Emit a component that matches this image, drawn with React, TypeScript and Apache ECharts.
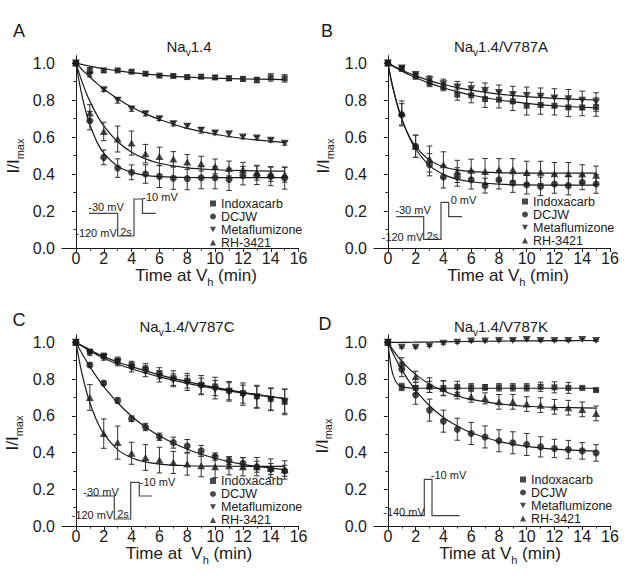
import React, { useEffect, useRef } from "react";
import * as echarts from "echarts";

// ---------- data ----------
const TIME = [0, 1, 2, 3, 4, 5, 6, 7, 8, 9, 10, 11, 12, 13, 14, 15];
const FIT_T = [0, 0.25, 0.5, 0.75, 1, 1.5, 2, 3, 4, 5, 6, 8, 10, 12, 15];
const DRUGS = ["Indoxacarb", "DCJW", "Metaflumizone", "RH-3421"];
const X_TICKS = [0, 2, 4, 6, 8, 10, 12, 14, 16];
const X_MINOR = [1, 3, 5, 7, 9, 11, 13, 15];
const Y_TICKS = [0, 0.2, 0.4, 0.6, 0.8, 1.0];
const Y_MINOR = [0.1, 0.3, 0.5, 0.7, 0.9];
const TITLES = ["1.4", "1.4/V787A", "1.4/V787C", "1.4/V787K"];
const LETTERS = ["A", "B", "C", "D"];

// Panel A: Nav1.4
const A_INDO = [1.0, 0.96, 0.96, 0.96, 0.953, 0.942, 0.932, 0.93, 0.924, 0.926, 0.922, 0.917, 0.914, 0.908, 0.922, 0.917];
const A_INDO_ERR = [0, 0.015, 0.01, 0.008, 0.008, 0.01, 0.008, 0.008, 0.01, 0.01, 0.01, 0.012, 0.012, 0.015, 0.02, 0.02];
const A_INDO_FIT = [1, 0.995, 0.991, 0.987, 0.983, 0.975, 0.969, 0.957, 0.948, 0.94, 0.934, 0.924, 0.918, 0.914, 0.91];
const A_DCJW = [1.0, 0.688, 0.49, 0.432, 0.409, 0.4, 0.387, 0.377, 0.375, 0.38, 0.38, 0.371, 0.391, 0.393, 0.387, 0.378];
const A_DCJW_ERR = [0, 0.05, 0.04, 0.05, 0.04, 0.05, 0.06, 0.06, 0.06, 0.06, 0.06, 0.06, 0.05, 0.05, 0.05, 0.06];
const A_DCJW_FIT = [1, 0.892, 0.802, 0.728, 0.667, 0.575, 0.513, 0.442, 0.409, 0.393, 0.386, 0.381, 0.38, 0.38, 0.38];
const A_META = [1.0, 0.935, 0.856, 0.798, 0.751, 0.726, 0.699, 0.672, 0.658, 0.636, 0.622, 0.616, 0.6, 0.595, 0.582, 0.566];
const A_META_ERR = [0, 0.01, 0.01, 0.015, 0.012, 0.012, 0.01, 0.012, 0.012, 0.015, 0.01, 0.015, 0.01, 0.01, 0.01, 0.01];
const A_META_FIT = [1, 0.98, 0.96, 0.941, 0.924, 0.89, 0.86, 0.807, 0.762, 0.725, 0.695, 0.647, 0.615, 0.592, 0.57];
const A_RH = [1.0, 0.73, 0.63, 0.589, 0.567, 0.51, 0.495, 0.481, 0.465, 0.456, 0.441, 0.43, 0.423, 0.407, 0.4, 0.396];
const A_RH_ERR = [0, 0.045, 0.05, 0.07, 0.065, 0.05, 0.05, 0.04, 0.04, 0.04, 0.04, 0.04, 0.04, 0.04, 0.04, 0.04];
const A_RH_FIT = [1, 0.94, 0.886, 0.837, 0.794, 0.72, 0.66, 0.574, 0.518, 0.482, 0.458, 0.433, 0.423, 0.418, 0.416];

// Panel B: Nav1.4/V787A
const B_INDO = [1.0, 0.968, 0.928, 0.892, 0.87, 0.829, 0.825, 0.805, 0.802, 0.793, 0.769, 0.773, 0.769, 0.76, 0.76, 0.762];
const B_INDO_ERR = [0, 0.01, 0.015, 0.02, 0.02, 0.03, 0.04, 0.045, 0.045, 0.05, 0.05, 0.05, 0.05, 0.05, 0.045, 0.05];
const B_INDO_FIT = [1, 0.989, 0.977, 0.967, 0.957, 0.938, 0.921, 0.891, 0.866, 0.845, 0.827, 0.8, 0.782, 0.769, 0.757];
const B_DCJW = [1.0, 0.72, 0.55, 0.45, 0.384, 0.384, 0.369, 0.337, 0.369, 0.351, 0.342, 0.333, 0.346, 0.337, 0.355, 0.346];
const B_DCJW_ERR = [0, 0.06, 0.06, 0.06, 0.06, 0.05, 0.05, 0.04, 0.05, 0.05, 0.05, 0.05, 0.05, 0.05, 0.04, 0.05];
const B_DCJW_FIT = [1, 0.905, 0.826, 0.758, 0.7, 0.605, 0.535, 0.445, 0.398, 0.372, 0.358, 0.345, 0.341, 0.34, 0.34];
const B_META = [1.0, 0.973, 0.937, 0.91, 0.888, 0.87, 0.861, 0.852, 0.841, 0.829, 0.825, 0.82, 0.811, 0.807, 0.798, 0.789];
const B_META_ERR = [0, 0.01, 0.015, 0.02, 0.025, 0.03, 0.035, 0.04, 0.04, 0.045, 0.045, 0.045, 0.05, 0.05, 0.05, 0.05];
const B_META_FIT = [1, 0.99, 0.98, 0.971, 0.962, 0.946, 0.931, 0.905, 0.884, 0.867, 0.853, 0.832, 0.818, 0.809, 0.8];
const B_RH = [1.0, 0.73, 0.55, 0.481, 0.45, 0.414, 0.42, 0.414, 0.423, 0.423, 0.409, 0.409, 0.402, 0.402, 0.4, 0.393];
const B_RH_ERR = [0, 0.065, 0.06, 0.07, 0.07, 0.06, 0.06, 0.07, 0.06, 0.06, 0.06, 0.06, 0.06, 0.06, 0.05, 0.05];
const B_RH_FIT = [1, 0.902, 0.822, 0.753, 0.697, 0.609, 0.548, 0.475, 0.439, 0.422, 0.413, 0.407, 0.405, 0.405, 0.405];

// Panel C: Nav1.4/V787C
const C_INDO = [1.0, 0.95, 0.926, 0.9, 0.877, 0.859, 0.832, 0.805, 0.791, 0.769, 0.76, 0.737, 0.724, 0.706, 0.692, 0.676];
const C_INDO_ERR = [0, 0.01, 0.015, 0.02, 0.02, 0.025, 0.03, 0.04, 0.04, 0.05, 0.05, 0.05, 0.055, 0.06, 0.06, 0.07];
const C_INDO_FIT = [1, 0.99, 0.98, 0.97, 0.96, 0.94, 0.922, 0.893, 0.868, 0.845, 0.823, 0.786, 0.755, 0.728, 0.695];
const C_DCJW = [1.0, 0.877, 0.778, 0.683, 0.584, 0.539, 0.486, 0.454, 0.436, 0.409, 0.378, 0.355, 0.342, 0.323, 0.31, 0.301];
const C_DCJW_ERR = [0, 0.01, 0.01, 0.015, 0.015, 0.02, 0.02, 0.03, 0.035, 0.03, 0.02, 0.02, 0.03, 0.03, 0.03, 0.03];
const C_DCJW_FIT = [1, 0.964, 0.931, 0.899, 0.868, 0.811, 0.759, 0.671, 0.598, 0.539, 0.49, 0.418, 0.369, 0.336, 0.306];
const C_META = [1.0, 0.94, 0.918, 0.892, 0.859, 0.838, 0.814, 0.793, 0.778, 0.76, 0.742, 0.73, 0.712, 0.701, 0.688, 0.679];
const C_META_ERR = [0, 0.01, 0.015, 0.02, 0.02, 0.025, 0.03, 0.035, 0.04, 0.045, 0.05, 0.05, 0.055, 0.06, 0.06, 0.065];
const C_META_FIT = [1, 0.988, 0.976, 0.965, 0.954, 0.933, 0.913, 0.882, 0.856, 0.833, 0.812, 0.777, 0.748, 0.724, 0.694];
const C_RH = [1.0, 0.7, 0.503, 0.454, 0.396, 0.373, 0.359, 0.346, 0.337, 0.328, 0.323, 0.328, 0.323, 0.323, 0.315, 0.305];
const C_RH_ERR = [0, 0.07, 0.08, 0.09, 0.06, 0.07, 0.07, 0.06, 0.06, 0.06, 0.06, 0.05, 0.05, 0.05, 0.05, 0.05];
const C_RH_FIT = [1, 0.896, 0.809, 0.735, 0.671, 0.573, 0.503, 0.416, 0.372, 0.349, 0.337, 0.328, 0.326, 0.325, 0.325];

// Panel D: Nav1.4/V787K
const D_INDO = [1.0, 0.757, 0.752, 0.758, 0.752, 0.758, 0.755, 0.755, 0.755, 0.755, 0.755, 0.758, 0.755, 0.752, 0.752, 0.74];
const D_INDO_ERR = [0, 0.02, 0.03, 0.03, 0.04, 0.03, 0.02, 0.015, 0.02, 0.02, 0.02, 0.025, 0.03, 0.03, 0.005, 0.005];
const D_INDO_FIT = [1, 0.859, 0.797, 0.77, 0.759, 0.752, 0.75, 0.75, 0.75, 0.75, 0.75, 0.75, 0.75, 0.75, 0.75];
const D_DCJW = [1.0, 0.853, 0.713, 0.631, 0.571, 0.527, 0.504, 0.485, 0.464, 0.453, 0.444, 0.431, 0.422, 0.416, 0.409, 0.398];
const D_DCJW_ERR = [0, 0.04, 0.05, 0.06, 0.06, 0.06, 0.06, 0.06, 0.06, 0.06, 0.06, 0.055, 0.05, 0.05, 0.045, 0.045];
const D_DCJW_FIT = [1, 0.959, 0.92, 0.884, 0.851, 0.791, 0.739, 0.655, 0.591, 0.544, 0.508, 0.461, 0.434, 0.419, 0.408];
const D_META = [1.0, 0.973, 0.973, 0.982, 0.995, 1.0, 1.007, 1.007, 1.01, 1.01, 1.015, 1.01, 1.01, 1.01, 1.015, 1.01];
const D_META_ERR = [0, 0.005, 0.005, 0.005, 0.005, 0.005, 0.005, 0.005, 0.005, 0.005, 0.005, 0.005, 0.005, 0.005, 0.005, 0.005];
const D_META_FIT = [1, 1, 1, 1, 1, 1, 1.001, 1.002, 1.003, 1.004, 1.005, 1.007, 1.008, 1.009, 1.01];
const D_RH = [1.0, 0.886, 0.813, 0.767, 0.749, 0.722, 0.704, 0.695, 0.676, 0.676, 0.664, 0.658, 0.649, 0.644, 0.635, 0.613];
const D_RH_ERR = [0, 0.03, 0.03, 0.04, 0.04, 0.03, 0.03, 0.03, 0.04, 0.04, 0.04, 0.04, 0.04, 0.04, 0.04, 0.04];
const D_RH_FIT = [1, 0.971, 0.945, 0.92, 0.898, 0.858, 0.825, 0.772, 0.735, 0.708, 0.689, 0.665, 0.652, 0.646, 0.642];

const PANELS = [
  { means: [A_INDO, A_DCJW, A_META, A_RH], errs: [A_INDO_ERR, A_DCJW_ERR, A_META_ERR, A_RH_ERR], fits: [A_INDO_FIT, A_DCJW_FIT, A_META_FIT, A_RH_FIT] },
  { means: [B_INDO, B_DCJW, B_META, B_RH], errs: [B_INDO_ERR, B_DCJW_ERR, B_META_ERR, B_RH_ERR], fits: [B_INDO_FIT, B_DCJW_FIT, B_META_FIT, B_RH_FIT] },
  { means: [C_INDO, C_DCJW, C_META, C_RH], errs: [C_INDO_ERR, C_DCJW_ERR, C_META_ERR, C_RH_ERR], fits: [C_INDO_FIT, C_DCJW_FIT, C_META_FIT, C_RH_FIT] },
  { means: [D_INDO, D_DCJW, D_META, D_RH], errs: [D_INDO_ERR, D_DCJW_ERR, D_META_ERR, D_RH_ERR], fits: [D_INDO_FIT, D_DCJW_FIT, D_META_FIT, D_RH_FIT] },
];

// ---------- layout & style ----------
const FONT = '"Liberation Sans", Arial, Helvetica, sans-serif';
const INK = "#1a1a1a";
const DOWN_TRI = "path://M0,0L10,0L5,9Z";
const SYMBOLS = ["rect", "circle", DOWN_TRI, "triangle"];
const SYMBOL_SIZES: any[] = [6, 7, [8, 7], [8, 7]];

const GRIDS = [
  { left: 62, top: 55.6, width: 236.6, height: 192.4 },
  { left: 374, top: 55.6, width: 236, height: 192.4 },
  { left: 62, top: 335, width: 236.6, height: 191 },
  { left: 374, top: 335, width: 236, height: 191 },
];
const LEGEND_POS = [
  { left: 210, top: 197 },
  { left: 522, top: 195 },
  { left: 210, top: 474.5 },
  { left: 520, top: 473 },
];
const LETTER_POS = [[19, 31], [327, 31], [19, 320], [325, 324]];
const TITLE_POS = [[189, 48], [501, 48], [187, 328], [501, 328]];
const YNAME_POS = [[15, 156], [325, 156], [14, 433], [323.5, 436]];
const XNAME_POS = [[196, 277], [508, 277], [189, 555], [500, 555]];
const XNAME_TEXT = ["Time at V", "Time at V", "Time at  V", "Time at V"];

const INSETS = [
  {
    pts: [[89, 213.3], [117.7, 213.3], [117.7, 236], [134, 236], [134, 199], [142.5, 199], [142.5, 213.3], [155.7, 213.3]],
    labels: [["-30 mV", 106, 207], ["-120 mV", 96, 232.7], ["2s", 126, 231.7], ["-10 mV", 160, 197]],
  },
  {
    pts: [[396.3, 216.7], [423.7, 216.7], [423.7, 239.3], [441, 239.3], [441, 202.3], [448.7, 202.3], [448.7, 216.7], [462, 216.7]],
    labels: [["-30 mV", 413, 210], ["-120 mV", 402.5, 236.7], ["2s", 432.5, 236], ["0 mV", 463.5, 200]],
  },
  {
    pts: [[86, 496], [114.3, 496], [114.3, 519], [130.7, 519], [130.7, 482.3], [139.3, 482.3], [139.3, 496], [152, 496]],
    labels: [["-30 mV", 101, 491.7], ["-120 mV", 92.5, 515], ["2s", 123, 514], ["-10 mV", 157.5, 481.7]],
  },
  {
    pts: [[400.3, 515.7], [424.3, 515.7], [424.3, 479.3], [432, 479.3], [432, 515.7], [459.7, 515.7]],
    labels: [["-140 mV", 404, 511.7], ["-10 mV", 448.5, 475]],
  },
];

function subText(x: number, y: number, main1: string, sub: string, main2: string, size: number, subSize: number, drop: number, rotation = 0) {
  return {
    type: "text", x, y, rotation,
    style: {
      text: "{a|" + main1 + "}{b|" + sub + "}" + (main2 ? "{a|" + main2 + "}" : ""),
      align: "center", verticalAlign: "middle",
      rich: {
        a: { fontSize: size, fontFamily: FONT, fill: INK, verticalAlign: "bottom", padding: [0, 0, drop, 0] },
        b: { fontSize: subSize, fontFamily: FONT, fill: INK, verticalAlign: "bottom" },
      },
    },
  };
}

function buildOption() {
  const grid: any[] = [];
  const xAxis: any[] = [];
  const yAxis: any[] = [];
  const series: any[] = [];
  const legend: any[] = [];
  const graphic: any[] = [];

  PANELS.forEach((panel, p) => {
    grid.push({ ...GRIDS[p], containLabel: false });
    xAxis.push({
      gridIndex: p, type: "value", min: -1, max: 16, position: "bottom",
      axisLine: { lineStyle: { color: INK, width: 1 } },
      axisTick: { length: 4, customValues: X_TICKS, lineStyle: { color: INK, width: 1 } },
      axisLabel: { customValues: X_TICKS, fontSize: 16, color: INK, fontFamily: FONT, margin: 2 },
      splitLine: { show: false },
    });
    xAxis.push({
      gridIndex: p, type: "value", min: -1, max: 16, position: "bottom",
      axisLine: { show: false },
      axisTick: { length: 2.5, customValues: X_MINOR, lineStyle: { color: INK, width: 1 } },
      axisLabel: { show: false },
      splitLine: { show: false },
    });
    yAxis.push({
      gridIndex: p, type: "value", min: 0, max: 1.04, position: "left",
      axisLine: { show: true, lineStyle: { color: INK, width: 1 } },
      axisTick: { show: true, length: 4, customValues: Y_TICKS, lineStyle: { color: INK, width: 1 } },
      axisLabel: {
        customValues: Y_TICKS, fontSize: 16, color: INK, fontFamily: FONT, margin: 7,
        formatter: (v: number) => v.toFixed(1),
      },
      splitLine: { show: false },
    });
    yAxis.push({
      gridIndex: p, type: "value", min: 0, max: 1.04, position: "left",
      axisLine: { show: false },
      axisTick: { show: true, length: 2.5, customValues: Y_MINOR, lineStyle: { color: INK, width: 1 } },
      axisLabel: { show: false },
      splitLine: { show: false },
    });

    const xi = 2 * p;
    const yi = 2 * p;
    DRUGS.forEach((drug, d) => {
      const fit = panel.fits[d];
      const mean = panel.means[d];
      const err = panel.errs[d];
      series.push({
        name: drug + " fit", type: "line", xAxisIndex: xi, yAxisIndex: yi,
        data: FIT_T.map((t, i) => [t, fit[i]]),
        symbol: "none", smooth: 0.35, silent: true, z: 2,
        lineStyle: { color: INK, width: 1.2 },
      });
      series.push({
        name: drug + " SEM", type: "custom", xAxisIndex: xi, yAxisIndex: yi, z: 3, silent: true,
        data: TIME.map((t, i) => [t, mean[i] - err[i], mean[i] + err[i]]).filter((r) => r[2] - r[1] > 0),
        encode: { x: 0, y: [1, 2] },
        renderItem: (params: any, api: any) => {
          const x = api.value(0);
          const top = api.coord([x, api.value(2)]);
          const bot = api.coord([x, api.value(1)]);
          const w = 2.8;
          const st = { stroke: "#333", lineWidth: 1 };
          return {
            type: "group",
            children: [
              { type: "line", shape: { x1: top[0], y1: top[1], x2: bot[0], y2: bot[1] }, style: st },
              { type: "line", shape: { x1: top[0] - w, y1: top[1], x2: top[0] + w, y2: top[1] }, style: st },
              { type: "line", shape: { x1: bot[0] - w, y1: bot[1], x2: bot[0] + w, y2: bot[1] }, style: st },
            ],
          };
        },
      });
      series.push({
        name: drug, type: "scatter", xAxisIndex: xi, yAxisIndex: yi, z: 5,
        symbol: SYMBOLS[d], symbolSize: SYMBOL_SIZES[d],
        itemStyle: { color: INK },
        data: TIME.map((t, i) => [t, mean[i]]),
      });
    });

    legend.push({
      ...LEGEND_POS[p], orient: "vertical", padding: 0, itemGap: 0, itemWidth: 6, itemHeight: 6,
      selectedMode: false,
      textStyle: { fontSize: 12.5, lineHeight: 11, color: INK, fontFamily: FONT },
      data: DRUGS.map((name, d) => ({ name, icon: SYMBOLS[d] })),
    });

    graphic.push({
      type: "text", x: LETTER_POS[p][0], y: LETTER_POS[p][1],
      style: { text: LETTERS[p], fontSize: 18, fontFamily: FONT, fill: INK, align: "center", verticalAlign: "middle" },
    });
    graphic.push(subText(TITLE_POS[p][0], TITLE_POS[p][1], "Na", "v", TITLES[p], 15, 10, 3));
    graphic.push(subText(YNAME_POS[p][0], YNAME_POS[p][1], "I/I", "max", "", 17, 11, 3, Math.PI / 2));
    graphic.push(subText(XNAME_POS[p][0], XNAME_POS[p][1], XNAME_TEXT[p], "h", " (min)", 17, 11, 3));

    const inset = INSETS[p];
    graphic.push({
      type: "polyline", shape: { points: inset.pts },
      style: { stroke: "#444", lineWidth: 1.2, fill: null },
    });
    inset.labels.forEach((lab: any) => {
      graphic.push({
        type: "text", x: lab[1], y: lab[2],
        style: { text: lab[0], fontSize: 11, fontFamily: FONT, fill: INK, align: "center", verticalAlign: "middle" },
      });
    });
  });

  return {
    animation: false,
    backgroundColor: "#ffffff",
    textStyle: { fontFamily: FONT },
    grid, xAxis, yAxis, series, legend, graphic,
  };
}

export default function App() {
  const ref = useRef<HTMLDivElement>(null);
  useEffect(() => {
    if (!ref.current) return;
    const chart = echarts.init(ref.current, null, { renderer: "svg" });
    chart.setOption(buildOption() as any);
    return () => chart.dispose();
  }, []);
  return (
    <div
      ref={ref}
      style={{ position: "fixed", left: 0, top: 0, width: 637, height: 576, background: "#fff" }}
    />
  );
}
